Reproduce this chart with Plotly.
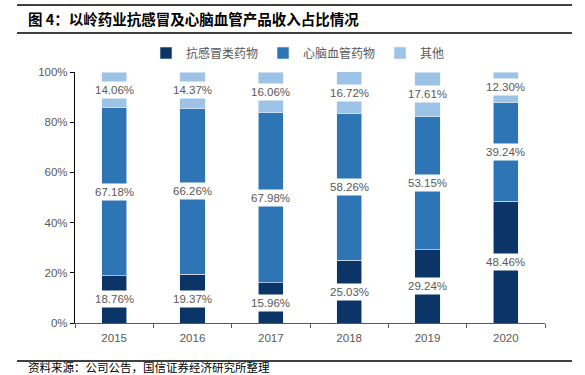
import plotly.graph_objects as go

years = ["2015", "2016", "2017", "2018", "2019", "2020"]
cold = [18.76, 19.37, 15.96, 25.03, 29.24, 48.46]
cardio = [67.18, 66.26, 67.98, 58.26, 53.15, 39.24]
other = [14.06, 14.37, 16.06, 16.72, 17.61, 12.30]
series_names = ["抗感冒类药物", "心脑血管药物", "其他"]
colors = ["#0B3566", "#2E75B6", "#9DC3E6"]
y_ticks = [0, 20, 40, 60, 80, 100]
y_tick_text = ["0%", "20%", "40%", "60%", "80%", "100%"]

fig = go.Figure()
for name, vals, col in zip(series_names, [cold, cardio, other], colors):
    fig.add_trace(go.Bar(
        x=years, y=vals, name=name,
        marker=dict(color=col, line=dict(color="#e8f0f8", width=0.6)),
    ))

font_lat = "Liberation Sans, Arial, sans-serif"

annotations = []
for i, yr in enumerate(years):
    base = 0
    for vals in [cold, cardio, other]:
        v = vals[i]
        annotations.append(dict(
            x=i, y=base + v / 2, xref="x", yref="y",
            text=f"{v:.2f}%", showarrow=False,
            font=dict(size=11.5, color="#595959", family=font_lat),
            bgcolor="white", borderpad=2,
        ))
        base += v

L, R, T, B = 75, 40, 72, 52
W, H = 585, 375
pw, ph = W - L - R, H - T - B

def px_to_paper(xp, yp):
    return (xp - L) / pw, (H - B - yp) / ph

tx, ty = px_to_paper(26, 19)
annotations.append(dict(
    x=tx, y=ty, xref="paper", yref="paper", text="<b>图 4：以岭药业抗感冒及心脑血管产品收入占比情况</b>",
    showarrow=False, xanchor="left", yanchor="middle",
    font=dict(size=14.5, color="#000000", family="Noto Sans CJK SC, sans-serif"),
))
fx, fy = px_to_paper(26, 367)
annotations.append(dict(
    x=fx, y=fy, xref="paper", yref="paper", text="资料来源：公司公告，国信证券经济研究所整理",
    showarrow=False, xanchor="left", yanchor="middle",
    font=dict(size=11.5, color="#000000", family="Noto Sans CJK SC, sans-serif"),
))

shapes = []
for yp in [5, 33, 361]:
    x0, y0 = px_to_paper(17, yp)
    x1, _ = px_to_paper(572, yp)
    shapes.append(dict(type="line", xref="paper", yref="paper", x0=x0, x1=x1, y0=y0, y1=y0,
                       line=dict(color="#000000", width=1.3)))

lx, ly = px_to_paper(298, 53)

fig.update_layout(
    barmode="stack",
    bargap=0.68,
    width=W, height=H,
    margin=dict(l=L, r=R, t=T, b=B, autoexpand=False),
    plot_bgcolor="white", paper_bgcolor="white",
    showlegend=True,
    legend=dict(orientation="h", x=lx, y=ly, xanchor="center", yanchor="middle",
                traceorder="normal", itemwidth=30,
                font=dict(size=12, color="#595959", family="Noto Sans CJK SC, sans-serif"),
                bgcolor="rgba(0,0,0,0)"),
    annotations=annotations,
    shapes=shapes,
)
fig.update_xaxes(type="category", range=[-0.5, len(years) - 0.5],
                 showline=True, linecolor="#595959", linewidth=1.2,
                 ticks="outside", ticklen=4, tickcolor="#595959", tickson="boundaries",
                 ticklabelstandoff=4,
                 tickfont=dict(size=11.5, color="#595959", family=font_lat),
                 showgrid=False)
fig.update_yaxes(range=[0, 100], tickvals=y_ticks, ticktext=y_tick_text,
                 showline=True, linecolor="#000000", linewidth=1.2, ticks="outside",
                 ticklen=4, tickcolor="#000000", showgrid=False, zeroline=False,
                 tickfont=dict(size=11.5, color="#595959", family=font_lat))

fig.write_html("out.html", config={"displayModeBar": False},
               post_script="document.body.style.margin='0';document.body.style.overflow='hidden';")
